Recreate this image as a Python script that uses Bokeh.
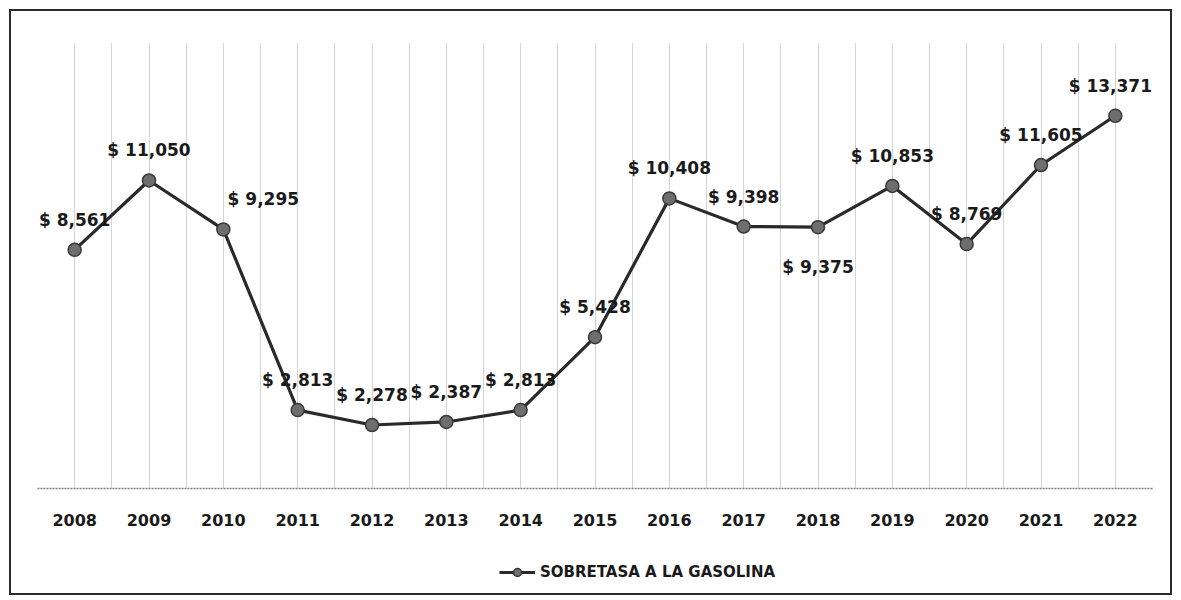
from bokeh.plotting import figure
from bokeh.layouts import column
from bokeh.models import (ColumnDataSource, Range1d, FixedTicker, Legend, LegendItem)
from bokeh.core.properties import value
from bokeh.embed import file_html
from bokeh.resources import INLINE

# ---- data ----
years = ["2008", "2009", "2010", "2011", "2012", "2013", "2014", "2015",
         "2016", "2017", "2018", "2019", "2020", "2021", "2022"]
sobretasa = [8561, 11050, 9295, 2813, 2278, 2387, 2813, 5428,
             10408, 9398, 9375, 10853, 8769, 11605, 13371]
series_name = "SOBRETASA A LA GASOLINA"

FONT = "DejaVu Sans"
LINE_KW = dict(line_color="#2a2a2a", line_width=3.2)
MARK_KW = dict(size=13, marker="circle", fill_color="#6e6e6e",
               line_color="#3a3a3a", line_width=1.5)

xs = list(range(len(years)))
labels = [f"$ {v:,}" for v in sobretasa]
# label placement: above by default, a few exceptions as in the original
dx = [0] * len(years)
dy = [-30] * len(years)
dx[years.index("2010")] = 40
dy[years.index("2018")] = 40
dx[years.index("2022")] = -5

src = ColumnDataSource(dict(x=xs, y=sobretasa, label=labels, dx=dx, dy=dy))

W = 1159
H_MAIN = 530
H_LEG = 52

p = figure(width=W, height=H_MAIN, output_backend="svg", toolbar_location=None,
           x_range=Range1d(-0.5, len(years) - 0.5), y_range=Range1d(0, 16000),
           min_border_left=26, min_border_right=18, min_border_top=31,
           min_border_bottom=53)
p.outline_line_color = None
p.background_fill_color = "white"
p.border_fill_color = "white"

# axes
p.yaxis.visible = False
p.ygrid.visible = False
xa = p.xaxis[0]
xa.ticker = FixedTicker(ticks=xs, minor_ticks=[i - 0.5 for i in range(len(years) + 1)])
xa.major_label_overrides = {i: y for i, y in enumerate(years)}
xa.major_tick_out = 0
xa.major_tick_in = 0
xa.minor_tick_out = 0
xa.minor_tick_in = 0
xa.major_label_standoff = 25
xa.major_label_text_font = FONT
xa.major_label_text_font_style = "bold"
xa.major_label_text_font_size = "16px"
xa.major_label_text_color = "#1a1a1a"
xa.axis_line_color = "#808080"
xa.axis_line_dash = "2 1"
xa.axis_line_width = 1.5

g = p.xgrid[0]
g.grid_line_color = "#a9a9a9"
g.grid_line_dash = "1 1"
g.grid_line_width = 1
g.minor_grid_line_color = "#a9a9a9"
g.minor_grid_line_dash = "1 1"
g.minor_grid_line_width = 1

# series
p.line("x", "y", source=src, **LINE_KW)
p.scatter("x", "y", source=src, **MARK_KW)

p.text("x", "y", text="label", source=src, x_offset="dx", y_offset="dy",
       text_align="center", text_baseline="middle",
       text_font=value(FONT), text_font_size="17px", text_font_style="bold",
       text_color="#1a1a1a")

# legend strip below the chart (same series, range chosen so only the key shows)
lf = figure(width=W, height=H_LEG, output_backend="svg", toolbar_location=None,
            x_range=Range1d(-0.5, len(years) - 0.5), y_range=Range1d(-2, -1),
            min_border=0)
lf.axis.visible = False
lf.grid.visible = False
lf.outline_line_color = None
lf.border_fill_color = "white"
lr = lf.line("x", "y", source=src, **LINE_KW)
mr = lf.scatter("x", "y", source=src, **MARK_KW)
legend = Legend(items=[LegendItem(label=series_name, renderers=[lr, mr])],
                location=(462, 11), orientation="horizontal",
                padding=0, margin=0, spacing=0,
                glyph_width=36, glyph_height=20, label_standoff=5,
                label_text_font=FONT, label_text_font_size="15px",
                label_text_font_style="bold",
                label_text_color="#1a1a1a",
                background_fill_alpha=0, border_line_color=None)
lf.add_layout(legend)

layout = column(p, lf, spacing=0)
layout.styles = {"border": "2px solid #2a2a2a", "margin": "9px 0px 0px 9px"}

open("out.html", "w").write(file_html(layout, INLINE))
